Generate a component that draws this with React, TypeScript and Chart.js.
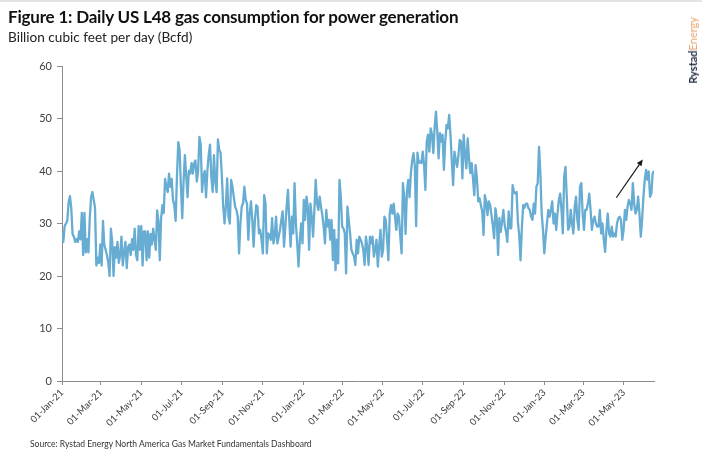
import { useEffect, useRef } from 'react';
import { Chart, registerables } from 'chart.js';

Chart.register(...registerables);

// Daily gas burn series, sampled every second day starting 01-Jan-2021 (Bcfd)
const SERIES_START = Date.UTC(2021, 0, 1);
const DAY_MS = 86400000;
const STEP_DAYS = 2;

const bcfd2021 = [
  28, 26.5, 29.5, 30, 30.5, 34, 35.2, 33, 28, 27.5,
  26.5, 27, 26.5, 28.5, 27, 32, 24, 32, 24.5, 27,
  24.5, 31, 35, 36, 34.5, 33, 22, 23.5, 22.5, 26,
  22, 30.5, 26, 25, 24, 22.5, 20, 29, 26.5, 20,
  25.5, 23.5, 26.5, 22.5, 24, 27.5, 22, 24.5, 26.5, 21.5,
  25.5, 26, 24, 27, 25, 29, 24, 23, 29.5, 25,
  29.5, 22, 28.5, 28.5, 23, 28.5, 23.5, 28, 26, 29,
  27, 25, 32.5, 30.5, 23, 31, 33.5, 32, 38.5, 37,
  36, 39.5, 37, 38.5, 34.5, 33.5, 30.5, 39, 45.5, 44,
  37, 31, 38, 43, 39, 35, 40, 39.5, 41.5, 39.5,
  41.5, 42, 38, 40, 46.5, 45, 36, 39, 40, 35,
  40, 43, 45, 39, 36, 43, 38, 36, 46, 44,
  43.5, 38.9, 33.2, 30, 33.2, 38.6, 31.3, 30, 38.3, 37,
  35.1, 33.2, 32.6, 31.3, 24.3, 30, 33.2, 33.8, 37, 34.5,
  33.8, 26.9, 31.9, 34.2, 30.7, 25.6, 30.7, 33.5, 33.2, 28.1,
  28.8, 26.9, 24.3, 35.4, 33.8, 24.3, 28.1, 27.8, 26.9, 31,
  26.2, 27.5, 31.3, 26.2, 27.5, 28.8, 30.7, 32.3, 25.6, 29.4,
  33.2, 36.4, 30.7, 25.6, 31.3, 28.1, 37.7, 30, 26.2, 21.8,
  26.9, 30, 26.2,
];

const bcfd2022 = [
  34.5, 30.7, 35.1, 33.2, 25, 33.8, 31.3, 27.5, 32.6, 38.3,
  33.8, 32.6, 35.1, 33.2, 31.6, 29.4, 26.2, 32.6, 29.4, 30.7,
  26.9, 30.7, 23, 28.8, 21.1, 26.9, 22.4, 38.3, 35.1, 29.4,
  29.1, 28.1, 20.5, 33.2, 30.7, 28.1, 25, 24.3, 23.7, 22.1,
  26.9, 24.3, 27.5, 26.9, 26.2, 25, 22.1, 27.5, 25.6, 22.1,
  27.5, 26.2, 27.5, 23.7, 25, 26.9, 21.8, 25.6, 28.8, 23.7,
  25, 31.3, 30.7, 26.9, 23, 31.9, 33.5, 31.9, 33.8, 31.3,
  28.8, 31.9, 31.3, 27.5, 24.3, 37.7, 35, 28, 36, 38.3,
  35, 39.6, 42, 43.4, 41, 29.5, 43.5, 41.5, 41.8, 41.5,
  43.7, 41.1, 36.4, 45.6, 46.9, 43.7, 48.1, 46.9, 43.4, 48.4,
  51.3, 47.5, 42.4, 47.2, 45.6, 46.9, 40.2, 45.6, 48.8, 48.1,
  50.7, 46.9, 41.8, 37.3, 43.7, 42.1, 40.8, 43, 45.9, 45.6,
  38.6, 46.9, 43, 40.5, 46.2, 42.4, 39.6, 41.5, 38.6, 35.4,
  41.1, 38.6, 34.2, 34.8, 33.5, 32.3, 27.8, 35.4, 34.2, 31.6,
  34.2, 33.5, 31.6, 29.7, 27.2, 32.9, 31, 24, 31, 28.4,
  30.3, 32.6, 29.7, 28.4, 26.5, 32.3, 29.1, 29.1, 37.3, 36,
  35.7, 36, 30.3, 27.8, 23, 29.1, 33.5, 33, 33.8, 33.8,
  32.9, 32.6, 31.3, 30.7, 33.8, 31.9, 37, 37.7, 44.6, 39.6,
  31.9, 28.8,
];

const bcfd2023 = [
  24.3, 27.5, 30, 32.6, 31.3, 32.6, 34.2, 30, 31.9, 28.8,
  31.9, 34.5, 35.7, 32.6, 28.1, 38.9, 40.8, 35.1, 28.8, 29.4,
  32.6, 30, 28.1, 33.2, 35.1, 30.7, 28.8, 37, 37.7, 31.9,
  28.8, 32.6, 32.6, 33.8, 35.7, 32.6, 28.8, 30.7, 31.3, 30,
  29.4, 29.4, 32.6, 28.1, 30, 26.9, 24.6, 28.8, 31.9, 28.1,
  27.5, 29.4, 27.5, 28.1, 27.5, 30, 31, 31.3, 30.7, 26.9,
  28.8, 32.6, 30.7, 33.2, 34.5, 33.8, 32.6, 37.7, 33.8, 31.9,
  32.6, 35.1, 31.9, 27.5, 30.7, 35.1, 38.3, 40.2, 38.3, 39.9,
  35.1, 35.7, 39.6, 39.9,
];

const tickDates = [
  '2021-01-01', '2021-03-01', '2021-05-01', '2021-07-01', '2021-09-01',
  '2021-11-01', '2022-01-01', '2022-03-01', '2022-05-01', '2022-07-01',
  '2022-09-01', '2022-11-01', '2023-01-01', '2023-03-01', '2023-05-01',
];
const tickLabels = [
  '01-Jan-21', '01-Mar-21', '01-May-21', '01-Jul-21', '01-Sep-21',
  '01-Nov-21', '01-Jan-22', '01-Mar-22', '01-May-22', '01-Jul-22',
  '01-Sep-22', '01-Nov-22', '01-Jan-23', '01-Mar-23', '01-May-23',
];

// Trend arrow drawn over the recent rise (day offset, Bcfd)
const arrowFrom = { day: 839, value: 34.9 };
const arrowTo = { day: 879, value: 42.2 };

const LINE_COLOR = '#67acd2';
const AXIS_COLOR = '#8c8c8c';
const FONT = 'Lato, "Open Sans", sans-serif';

const dayOffset = (iso: string) => (Date.parse(iso + 'T00:00:00Z') - SERIES_START) / DAY_MS;

const arrowPlugin = {
  id: 'trendArrow',
  afterDatasetsDraw(chart: any) {
    const { ctx, scales } = chart;
    const x1 = scales.x.getPixelForValue(arrowFrom.day);
    const y1 = scales.y.getPixelForValue(arrowFrom.value);
    const x2 = scales.x.getPixelForValue(arrowTo.day);
    const y2 = scales.y.getPixelForValue(arrowTo.value);
    const ang = Math.atan2(y2 - y1, x2 - x1);
    const head = 7;
    ctx.save();
    ctx.strokeStyle = '#1a1a1a';
    ctx.fillStyle = '#1a1a1a';
    ctx.lineWidth = 1.2;
    ctx.beginPath();
    ctx.moveTo(x1, y1);
    ctx.lineTo(x2 - Math.cos(ang) * head * 0.8, y2 - Math.sin(ang) * head * 0.8);
    ctx.stroke();
    ctx.beginPath();
    ctx.moveTo(x2, y2);
    ctx.lineTo(x2 - head * Math.cos(ang - 0.42), y2 - head * Math.sin(ang - 0.42));
    ctx.lineTo(x2 - head * Math.cos(ang + 0.42), y2 - head * Math.sin(ang + 0.42));
    ctx.closePath();
    ctx.fill();
    ctx.restore();
  },
};

export default function App() {
  const canvasRef = useRef<HTMLCanvasElement | null>(null);

  useEffect(() => {
    const canvas = canvasRef.current;
    if (!canvas) return;
    const values = [...bcfd2021, ...bcfd2022, ...bcfd2023];
    const points = values.map((v, i) => ({ x: i * STEP_DAYS, y: v }));
    const lastDay = (values.length - 1) * STEP_DAYS;
    const tickDays = tickDates.map(dayOffset);

    const chart = new Chart(canvas, {
      type: 'line',
      data: {
        datasets: [
          {
            data: points,
            borderColor: LINE_COLOR,
            borderWidth: 2.3,
            pointRadius: 0,
            tension: 0,
            fill: false,
            borderJoinStyle: 'round',
            borderCapStyle: 'round',
          },
        ],
      },
      options: {
        animation: false,
        responsive: false,
        devicePixelRatio: 1,
        layout: { padding: { top: 66, right: 48, left: 0, bottom: 0 } },
        plugins: {
          legend: { display: false },
          tooltip: { enabled: false },
        },
        scales: {
          x: {
            type: 'linear',
            min: 0,
            max: lastDay,
            afterBuildTicks: (scale: any) => {
              scale.ticks = tickDays.map((value) => ({ value }));
            },
            afterFit: (scale: any) => {
              scale.height = 75;
            },
            ticks: {
              autoSkip: false,
              minRotation: 45,
              maxRotation: 45,
              padding: 2,
              color: '#404040',
              font: { family: FONT, size: 9.5 },
              callback: (_v: any, i: number) => tickLabels[i],
            },
            grid: { drawOnChartArea: false, drawTicks: true, tickLength: 4, color: AXIS_COLOR },
            border: { display: true, color: AXIS_COLOR, width: 1 },
          },
          y: {
            min: 0,
            max: 60,
            afterFit: (scale: any) => {
              scale.width = 62;
            },
            ticks: {
              stepSize: 10,
              padding: 5,
              color: '#404040',
              font: { family: FONT, size: 11 },
            },
            grid: { drawOnChartArea: false, drawTicks: true, tickLength: 5, color: AXIS_COLOR },
            border: { display: true, color: AXIS_COLOR, width: 1 },
          },
        },
      },
      plugins: [arrowPlugin],
    } as any);

    return () => chart.destroy();
  }, []);

  return (
    <div
      style={{
        position: 'absolute',
        left: 0,
        top: 0,
        width: 702,
        height: 456,
        background: '#ffffff',
        overflow: 'hidden',
        fontFamily: FONT,
      }}
    >
      <div style={{ position: 'absolute', left: 0, top: 0, width: 702, height: 2, background: '#e4e4e4' }} />
      <canvas ref={canvasRef} width={702} height={456} style={{ position: 'absolute', left: 0, top: 0, display: 'block' }} />
      <div
        style={{
          position: 'absolute',
          left: 8,
          top: 6,
          fontSize: 17,
          letterSpacing: '-0.2px',
          lineHeight: '22px',
          fontWeight: 700,
          color: '#111',
          whiteSpace: 'nowrap',
        }}
      >
        Figure 1: Daily US L48 gas consumption for power generation
      </div>
      <div
        style={{
          position: 'absolute',
          left: 8,
          top: 28,
          fontSize: 13.6,
          lineHeight: '18px',
          color: '#222',
          whiteSpace: 'nowrap',
        }}
      >
        Billion cubic feet per day (Bcfd)
      </div>
      <div
        style={{
          position: 'absolute',
          left: 30,
          top: 437,
          fontSize: 8.5,
          lineHeight: '14px',
          color: '#333',
          whiteSpace: 'nowrap',
        }}
      >
        Source: Rystad Energy North America Gas Market Fundamentals Dashboard
      </div>
      <div
        style={{
          position: 'absolute',
          left: 687,
          top: 17,
          writingMode: 'vertical-rl',
          transform: 'rotate(180deg)',
          fontSize: 11,
          lineHeight: '12px',
          whiteSpace: 'nowrap',
        }}
      >
        <span style={{ color: '#1d2740', fontWeight: 700 }}>Rystad</span>
        <span style={{ color: '#e9a468' }}>Energy</span>
      </div>
    </div>
  );
}
